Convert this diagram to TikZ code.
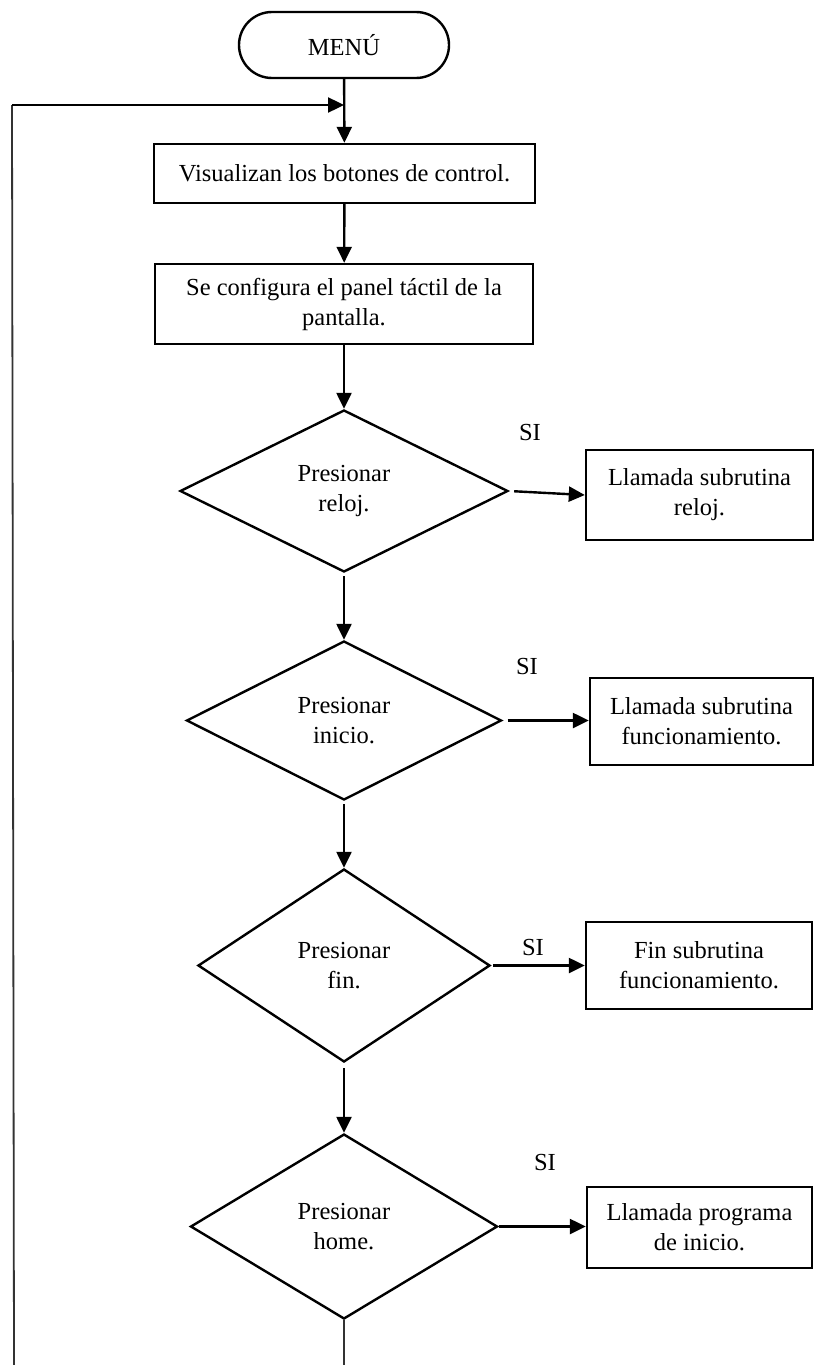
\documentclass[tikz,border=0pt]{standalone}
\usepackage{fontspec}
\setmainfont{Liberation Serif}
\usetikzlibrary{shapes.geometric,arrows.meta}
\begin{document}
\begin{tikzpicture}[x=1pt,y=-1pt,
  every node/.style={font=\fontsize{24.5}{30}\selectfont},
  box/.style={draw, line width=2.4pt, rectangle, align=center, inner sep=0pt},
  dec/.style={draw, line width=2.4pt, diamond, aspect=2, align=center, inner sep=0pt},
  termbox/.style={draw, line width=2.4pt, rectangle, rounded corners=33pt, align=center, inner sep=0pt, minimum width=210pt, minimum height=66pt},
  flow/.style={line width=2.4pt, -{Triangle[length=16pt,width=15pt]}},
  lab/.style={inner sep=0pt},
  loopline/.style={line width=1.8pt, draw=black!80}
]
\useasboundingbox (0,0) rectangle (814,1365);

\node[termbox] (menu) at (344,45) {MENÚ};
\node[box, minimum width=381pt, minimum height=59pt] (b1) at (344.5,173.5) {Visualizan los botones de control.};
\node[box, minimum width=378pt, minimum height=80pt] (b2) at (344,304) {Se configura el panel táctil de la\\pantalla.};
\node[dec, minimum width=328pt, minimum height=162pt] (d1) at (344,491) {Presionar\\reloj.};
\node[box, minimum width=227pt, minimum height=90pt] (r1) at (699.5,495) {Llamada subrutina\\reloj.};
\node[dec, minimum width=315pt, minimum height=159pt] (d2) at (344,720.5) {Presionar\\inicio.};
\node[box, minimum width=223pt, minimum height=87pt] (r2) at (701.5,721.5) {Llamada subrutina\\funcionamiento.};
\node[dec, minimum width=292pt, minimum height=193pt] (d3) at (344,965.5) {Presionar\\fin.};
\node[box, minimum width=226pt, minimum height=87pt] (r3) at (699,965.5) {Fin subrutina\\funcionamiento.};
\node[dec, minimum width=307pt, minimum height=185pt] (d4) at (344,1226.5) {Presionar\\home.};
\node[box, minimum width=225pt, minimum height=81pt] (r4) at (699.5,1227.5) {Llamada programa\\de inicio.};

\node[lab] (s1) at (530,433) {SI};
\node[lab] (s2) at (527,667) {SI};
\node[lab] (s3) at (533,947) {SI};
\node[lab] (s4) at (545,1162) {SI};

\draw[flow] (menu) -- (b1);
\draw[flow] (b1) -- (b2);
\draw[flow] (b2) -- (d1);
\draw[flow, shorten <=3pt] (d1) -- (d2);
\draw[flow, shorten <=3pt] (d2) -- (d3);
\draw[flow, shorten <=5pt] (d3) -- (d4);

\draw[flow, shorten <=5pt] (d1.east) -- (r1.west);
\draw[flow, shorten <=5pt] (d2.east) -- (d2.east -| r2.west);
\draw[flow, shorten <=2pt] (d3.east) -- (d3.east -| r3.west);
\draw[flow] (d4.east) -- (d4.east -| r4.west);

\coordinate (lb) at (14,1365);
\coordinate (lt) at (12,105);
\coordinate (bend) at (344,1365);
\draw[loopline] (lb) -- (lt);
\draw[flow] (lt) -- (lt -| menu.south);
\draw[loopline] (d4.south) -- (bend);
\end{tikzpicture}
\end{document}
